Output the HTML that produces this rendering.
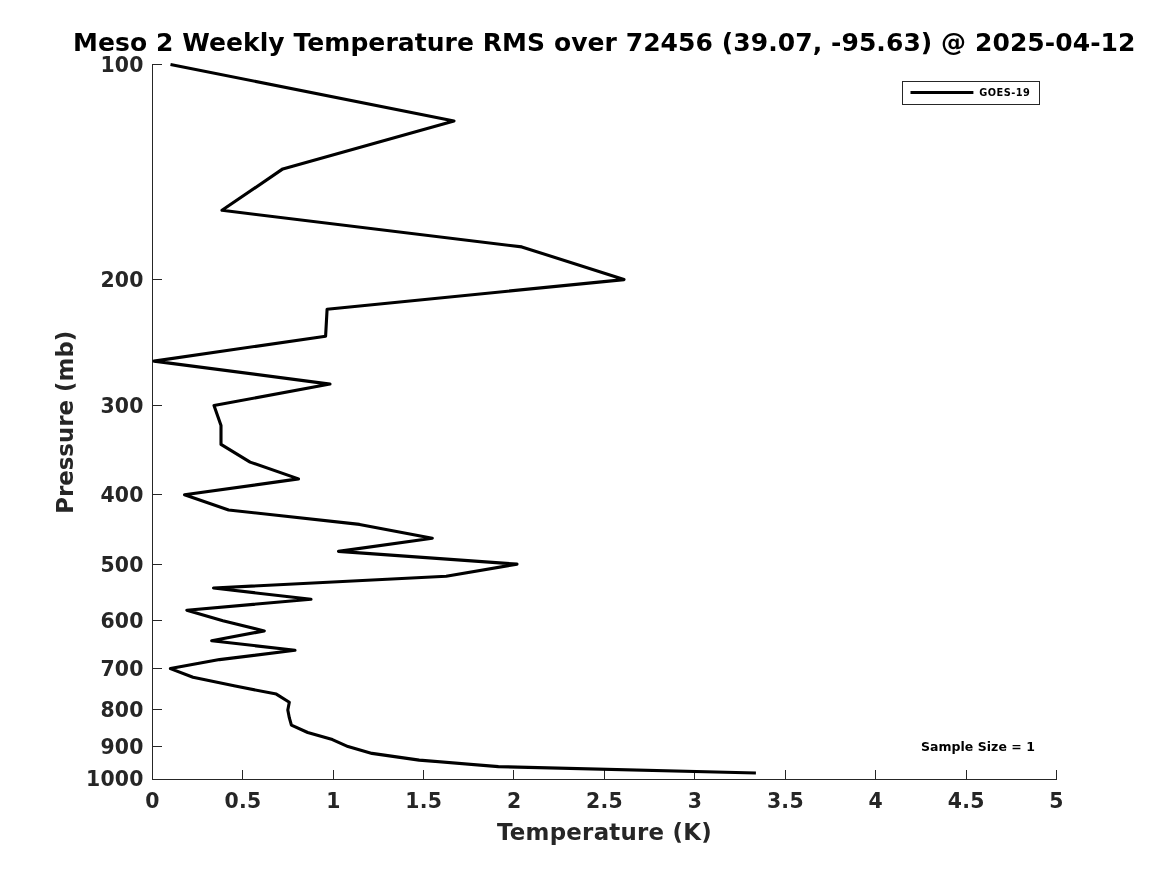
<!DOCTYPE html>
<html lang="en"><head><meta charset="utf-8"><title>Meso 2 Weekly Temperature RMS</title>
<style>
html,body{margin:0;padding:0;background:#fff;}
body{width:1167px;height:875px;overflow:hidden;}
svg{display:block;}
text{font-family:"DejaVu Sans","Liberation Sans",sans-serif;font-weight:bold;}
.tk{font-size:20.4px;fill:#262626;letter-spacing:0.3px;}
.lb{font-size:22.9px;fill:#262626;}
.tt{font-size:25px;fill:#000;letter-spacing:0.067px;}
.ax{fill:#262626;}
</style></head><body>
<svg width="1167" height="875" viewBox="0 0 1167 875">
<rect x="0" y="0" width="1167" height="875" fill="#ffffff"/>
<g class="ax">
<rect x="152" y="64" width="1" height="716"/>
<rect x="152" y="779" width="905" height="1"/>
<rect x="152" y="770" width="1" height="9"/>
<rect x="242" y="770" width="1" height="9"/>
<rect x="333" y="770" width="1" height="9"/>
<rect x="423" y="770" width="1" height="9"/>
<rect x="513" y="770" width="1" height="9"/>
<rect x="604" y="770" width="1" height="9"/>
<rect x="694" y="770" width="1" height="9"/>
<rect x="785" y="770" width="1" height="9"/>
<rect x="875" y="770" width="1" height="9"/>
<rect x="966" y="770" width="1" height="9"/>
<rect x="1056" y="770" width="1" height="9"/>
<rect x="153" y="64" width="9" height="1"/>
<rect x="153" y="279" width="9" height="1"/>
<rect x="153" y="405" width="9" height="1"/>
<rect x="153" y="494" width="9" height="1"/>
<rect x="153" y="564" width="9" height="1"/>
<rect x="153" y="620" width="9" height="1"/>
<rect x="153" y="668" width="9" height="1"/>
<rect x="153" y="709" width="9" height="1"/>
<rect x="153" y="746" width="9" height="1"/>
<rect x="153" y="779" width="9" height="1"/>
</g>
<text class="tk" x="152.6" y="807.5" text-anchor="middle">0</text>
<text class="tk" x="243.0" y="807.5" text-anchor="middle">0.5</text>
<text class="tk" x="333.4" y="807.5" text-anchor="middle">1</text>
<text class="tk" x="423.8" y="807.5" text-anchor="middle">1.5</text>
<text class="tk" x="514.2" y="807.5" text-anchor="middle">2</text>
<text class="tk" x="604.6" y="807.5" text-anchor="middle">2.5</text>
<text class="tk" x="695.0" y="807.5" text-anchor="middle">3</text>
<text class="tk" x="785.4" y="807.5" text-anchor="middle">3.5</text>
<text class="tk" x="875.8" y="807.5" text-anchor="middle">4</text>
<text class="tk" x="966.2" y="807.5" text-anchor="middle">4.5</text>
<text class="tk" x="1056.6" y="807.5" text-anchor="middle">5</text>
<text class="tk" x="143.85" y="71.8" text-anchor="end">100</text>
<text class="tk" x="143.85" y="286.8" text-anchor="end">200</text>
<text class="tk" x="143.85" y="412.8" text-anchor="end">300</text>
<text class="tk" x="143.85" y="501.8" text-anchor="end">400</text>
<text class="tk" x="143.85" y="571.8" text-anchor="end">500</text>
<text class="tk" x="143.85" y="627.8" text-anchor="end">600</text>
<text class="tk" x="143.85" y="675.8" text-anchor="end">700</text>
<text class="tk" x="143.85" y="716.8" text-anchor="end">800</text>
<text class="tk" x="143.85" y="753.8" text-anchor="end">900</text>
<text class="tk" x="143.85" y="785.8" text-anchor="end">1000</text>
<text class="lb" x="604.5" y="840" text-anchor="middle" style="letter-spacing:0.24px">Temperature (K)</text>
<text class="lb" transform="translate(73.2,422.3) rotate(-90)" text-anchor="middle">Pressure (mb)</text>
<text class="tt" x="604.3" y="51.3" text-anchor="middle">Meso 2 Weekly Temperature RMS over 72456 (39.07, -95.63) @ 2025-04-12</text>
<polyline points="170.5,64.4 454.0,121.0 282.8,168.9 222.0,210.3 521.8,246.9 624.0,279.6 327.1,309.2 325.6,336.2 154.0,361.1 330.0,384.1 214.0,405.5 221.0,425.5 221.0,444.4 250.1,462.1 298.5,478.9 184.5,494.8 228.6,510.0 359.5,524.4 432.3,538.2 338.5,551.4 517.0,564.1 446.2,576.3 213.5,588.0 311.0,599.3 186.8,610.2 222.9,620.7 264.3,630.9 211.7,640.7 295.0,650.3 219.5,659.6 170.4,668.6 193.0,677.3 234.0,685.8 276.3,694.1 289.3,702.2 287.8,710.0 289.3,717.7 291.4,725.2 307.7,732.5 332.4,739.6 348.0,746.6 372.0,753.4 419.2,760.1 498.4,766.6 755.9,773.0" fill="none" stroke="#000" stroke-width="3.1" stroke-linejoin="round" stroke-linecap="butt"/>
<rect x="902.5" y="81.5" width="137" height="23" fill="#fff" stroke="#262626" stroke-width="1"/>
<line x1="910.5" y1="92.5" x2="973.4" y2="92.5" stroke="#000" stroke-width="3.1"/>
<text x="979.3" y="95.9" style="font-size:9.8px;fill:#000;letter-spacing:0.47px">GOES-19</text>
<text x="920.9" y="750.8" style="font-size:12.5px;fill:#000;letter-spacing:0.04px">Sample Size = 1</text>
</svg></body></html>
